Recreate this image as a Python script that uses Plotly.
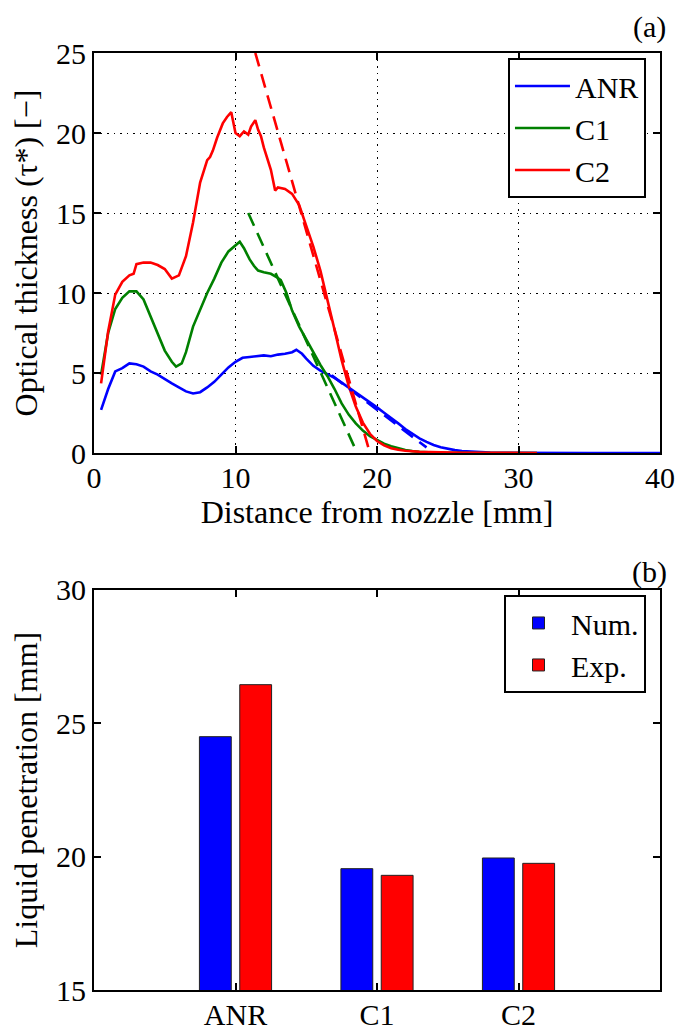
import plotly.graph_objects as go

# ---------------- data: panel (a) ----------------
anr_x = [0.5, 1.0, 1.5, 2.0, 2.5, 3.0, 3.5, 4.0, 4.5, 5.0, 5.5, 6.0, 6.5, 7.0, 7.5, 8.0,
         8.5, 9.0, 9.5, 10.0, 10.5, 11.0, 11.5, 12.0, 12.5, 13.0, 13.5, 14.0, 14.3, 14.7,
         15.0, 15.5, 16.0, 16.5, 17.0, 17.5, 18.0, 18.5, 19.0, 19.5, 20.0, 20.5, 21.0,
         21.5, 22.0, 22.5, 23.0, 23.5, 24.0, 24.5, 25.0, 25.5, 26.0, 27.0, 28.0, 29.0,
         30.0, 32.0, 35.0, 40.0]
anr_y = [2.7, 4.0, 5.1, 5.3, 5.6, 5.55, 5.4, 5.1, 4.9, 4.6, 4.35, 4.1, 3.85, 3.72, 3.8, 4.1,
         4.45, 4.9, 5.35, 5.7, 5.95, 6.0, 6.05, 6.1, 6.05, 6.15, 6.2, 6.3, 6.45, 6.2,
         5.9, 5.45, 5.15, 4.95, 4.7, 4.4, 4.1, 3.8, 3.5, 3.15, 2.85, 2.52, 2.2,
         1.85, 1.5, 1.2, 0.92, 0.7, 0.5, 0.36, 0.26, 0.18, 0.12, 0.06, 0.03, 0.02,
         0.01, 0.0, 0.0, 0.0]

c1_x = [0.5, 0.7, 1.0, 1.5, 2.0, 2.5, 3.0, 3.5, 4.0, 4.5, 5.0, 5.5, 5.8, 6.2, 6.5, 7.0,
        7.5, 8.0, 8.5, 9.0, 9.5, 10.0, 10.3, 10.6, 11.0, 11.3, 11.6, 12.0, 12.5, 12.9,
        13.2, 13.6, 14.0, 14.5, 15.0, 15.5, 16.0, 16.5, 17.0, 17.5, 18.0, 18.5, 19.0,
        19.5, 20.0, 20.5, 21.0, 21.5, 22.0, 22.5, 23.0, 24.0, 25.0, 27.0, 31.3]
c1_y = [4.9, 6.0, 7.5, 9.0, 9.7, 10.1, 10.1, 9.6, 8.5, 7.4, 6.4, 5.7, 5.4, 5.6, 6.3, 7.9,
        9.0, 10.0, 10.9, 11.9, 12.6, 13.0, 13.2, 12.8, 12.1, 11.7, 11.4, 11.3, 11.2, 11.0,
        10.8, 10.0, 8.9, 7.9, 7.1, 6.3, 5.5, 4.8, 4.0, 3.1, 2.4, 1.85, 1.4,
        1.05, 0.8, 0.58, 0.42, 0.3, 0.19, 0.12, 0.07, 0.03, 0.01, 0.0, 0.0]

c2_x = [0.5, 1.0, 1.5, 2.0, 2.5, 2.8, 3.0, 3.5, 4.0, 4.5, 5.0, 5.5, 6.0, 6.5, 7.0, 7.5,
        8.0, 8.2, 8.4, 8.7, 9.1, 9.4, 9.7, 10.0, 10.3, 10.6, 10.9, 11.1, 11.4, 11.6, 11.8,
        12.0, 12.5, 12.8, 13.0, 13.5, 14.0, 14.5, 15.0, 15.5, 16.0, 16.5, 17.0, 17.5,
        18.0, 18.5, 19.0, 19.5, 20.0, 20.5, 21.0, 21.5, 22.0, 23.0, 24.0, 25.0, 26.0,
        28.0, 30.0, 31.3]
c2_y = [4.35, 7.6, 9.9, 10.7, 11.1, 11.2, 11.8, 11.9, 11.9, 11.75, 11.5, 10.9, 11.1, 12.3,
        14.4, 16.9, 18.3, 18.5, 18.9, 19.7, 20.6, 21.0, 21.3, 20.0, 19.8, 20.1, 19.9, 20.4,
        20.8, 20.2, 19.8, 19.1, 17.7, 16.4, 16.6, 16.5, 16.2, 15.5, 14.2, 12.9, 11.4,
        9.6, 7.7, 5.8, 4.2, 2.9, 1.9, 1.2, 0.75, 0.48, 0.3, 0.2, 0.14, 0.08, 0.05, 0.03,
        0.02, 0.01, 0.0, 0.0]

# fitted slope lines (dashed)
anr_fit_x = [16.8, 23.5]
anr_fit_y = [4.85, 0.35]
c1_fit_x = [10.9, 18.6]
c1_fit_y = [15.0, 0.0]
c2_fit_x = [11.4, 19.5]
c2_fit_y = [25.0, 0.0]

# ---------------- data: panel (b) ----------------
cases = ["ANR", "C1", "C2"]
case_pos = [1, 2, 3]
num_pen = [24.5, 19.55, 19.95]
exp_pen = [26.45, 19.3, 19.75]

BLUE = "#0000FF"
GREEN = "#008000"
RED = "#FF0000"
FONT = "Liberation Serif, Times New Roman, serif"

fig = go.Figure()

fig.add_trace(go.Scatter(x=anr_x, y=anr_y, mode="lines", name="ANR",
                         line=dict(color=BLUE, width=2.6), xaxis="x", yaxis="y", legend="legend"))
fig.add_trace(go.Scatter(x=c1_x, y=c1_y, mode="lines", name="C1",
                         line=dict(color=GREEN, width=2.6), xaxis="x", yaxis="y", legend="legend"))
fig.add_trace(go.Scatter(x=c2_x, y=c2_y, mode="lines", name="C2",
                         line=dict(color=RED, width=2.6), xaxis="x", yaxis="y", legend="legend"))
for fx, fy, col in [(anr_fit_x, anr_fit_y, BLUE), (c1_fit_x, c1_fit_y, GREEN), (c2_fit_x, c2_fit_y, RED)]:
    fig.add_trace(go.Scatter(x=fx, y=fy, mode="lines", showlegend=False,
                             line=dict(color=col, width=2.6, dash="14px,8px"),
                             xaxis="x", yaxis="y"))

fig.add_trace(go.Bar(x=case_pos, y=num_pen, name="Num.", width=0.225, offset=-0.255,
                     marker=dict(color=BLUE, line=dict(color="#222222", width=1)),
                     xaxis="x2", yaxis="y2", legend="legend2"))
fig.add_trace(go.Bar(x=case_pos, y=exp_pen, name="Exp.", width=0.225, offset=0.03,
                     marker=dict(color=RED, line=dict(color="#222222", width=1)),
                     xaxis="x2", yaxis="y2", legend="legend2"))

axis_common = dict(showline=True, linecolor="black", linewidth=2, mirror="ticks",
                   ticks="inside", ticklen=7, tickwidth=1.5, tickcolor="black",
                   tickfont=dict(family=FONT, size=30, color="black"), zeroline=False,
                   automargin=False)
grid_style = dict(showgrid=True, gridcolor="black", griddash="1.5px,5px", gridwidth=1.2)
title_font = dict(family=FONT, size=32, color="black")

fig.update_layout(
    template="none",
    width=694, height=1030,
    margin=dict(l=86, r=42, t=45, b=48, autoexpand=False),
    paper_bgcolor="white", plot_bgcolor="white",
    font=dict(family=FONT, size=30, color="black"),
    barmode="overlay",
    xaxis=dict(domain=[0, 1], anchor="y", range=[0, 40], tickvals=[0, 10, 20, 30, 40],
               ticklabelstandoff=-3,
               title=dict(text="Distance from nozzle [mm]", font=title_font, standoff=4),
               **grid_style, **axis_common),
    yaxis=dict(domain=[0.5731, 1], anchor="x", range=[0, 25], tickvals=[0, 5, 10, 15, 20, 25],
               title=dict(text="Optical thickness (τ*) [−]", font=title_font, standoff=10),
               **grid_style, **axis_common),
    xaxis2=dict(domain=[0, 1], anchor="y2", range=[0, 4], tickvals=case_pos, ticktext=cases,
                ticklabelstandoff=-3, showgrid=False, **axis_common),
    yaxis2=dict(domain=[0, 0.4269], anchor="x2", range=[15, 30], tickvals=[15, 20, 25, 30],
                showgrid=False,
                title=dict(text="Liquid penetration [mm]", font=title_font, standoff=10),
                **axis_common),
    legend=dict(x=0.7314, y=0.9947, xanchor="left", yanchor="top", itemwidth=55,
                bgcolor="white", bordercolor="black", borderwidth=2,
                font=dict(family=FONT, size=30, color="black"), tracegroupgap=0),
    legend2=dict(x=0.7244, y=0.4216, xanchor="left", yanchor="top", itemwidth=55,
                 bgcolor="white", bordercolor="black", borderwidth=2,
                 font=dict(family=FONT, size=30, color="black"), tracegroupgap=0),
    annotations=[
        dict(text="(a)", xref="paper", yref="paper", x=0.982, y=982 / 937, showarrow=False,
             xanchor="center", yanchor="top", font=dict(family=FONT, size=30)),
        dict(text="(b)", xref="paper", yref="paper", x=0.982, y=0.4461, showarrow=False,
             xanchor="center", yanchor="middle", font=dict(family=FONT, size=30)),
    ],
    showlegend=True,
)

fig.write_html("out.html")
